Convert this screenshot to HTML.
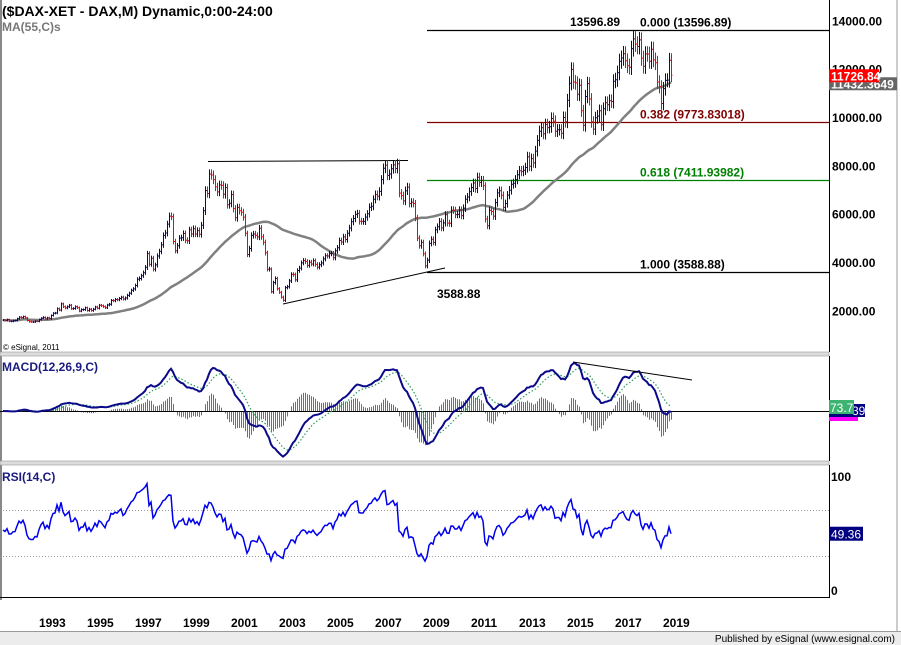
<!DOCTYPE html>
<html><head><meta charset="utf-8"><style>
html,body{margin:0;padding:0;background:#fff;}
svg{display:block;font-family:"Liberation Sans",Arial,sans-serif;}
</style></head><body>
<svg id="chart" width="901" height="645" viewBox="0 0 901 645">
<rect x="0" y="0" width="901" height="645" fill="#fff"/>
<rect x="0" y="0" width="2" height="600" fill="#888"/>
<line x1="897" y1="0" x2="897" y2="632" stroke="#ccc" stroke-width="2"/>
<rect x="0" y="352" width="829" height="4" fill="#ddd" stroke="#999" stroke-width="0.6"/>
<rect x="0" y="461" width="829" height="4" fill="#ddd" stroke="#999" stroke-width="0.6"/>
<line x1="829.5" y1="0" x2="829.5" y2="352" stroke="#000"/>
<line x1="829.5" y1="356" x2="829.5" y2="461" stroke="#000"/>
<line x1="829.5" y1="465" x2="829.5" y2="598" stroke="#000"/>
<line x1="0" y1="597.5" x2="830" y2="597.5" stroke="#000"/>
<g id="main"></g>
<g id="macd"></g>
<g id="rsi"></g>
<g id="xaxis"></g>
<text x="2" y="16" font-size="14" font-weight="bold" fill="#000">($DAX-XET - DAX,M) Dynamic,0:00-24:00</text>
<text x="2" y="31" font-size="12" font-weight="bold" fill="#777">MA(55,C)s</text>
<text x="3" y="350" font-size="8" fill="#000">© eSignal, 2011</text>
<text x="2" y="371" font-size="12" font-weight="bold" fill="#1a1a80">MACD(12,26,9,C)</text>
<text x="2" y="481" font-size="12" font-weight="bold" fill="#1a1a80">RSI(14,C)</text>
<rect x="0" y="632" width="901" height="13" fill="#ececec"/>
<line x1="0" y1="631.5" x2="901" y2="631.5" stroke="#999"/>
<text x="895" y="642" font-size="10" text-anchor="end" fill="#000">Published by eSignal (www.esignal.com)</text>
</svg>
<script>
const closes=[
1600,1580,1620,1550,1550,1578,
1580,1650,1720,1700,1740,1690,1580,1530,1520,1520,1550,1545,
1620,1680,1710,1650,1690,1660,1790,1880,1890,2070,2010,2267,
2150,2100,2150,2210,2070,2080,2150,2110,1970,2030,2030,2106,
1990,2050,1990,2050,2140,2090,2210,2190,2150,2110,2220,2254,
2410,2400,2450,2440,2490,2540,2470,2510,2620,2710,2830,2889,
3030,3290,3320,3430,3560,3780,4350,3910,4160,3700,3880,4250,
4440,4710,5100,5200,5570,5900,5880,4850,4470,4670,4990,5002,
5180,4900,4880,5330,5160,5380,5160,5300,5150,5520,6120,6958,
6830,7640,7600,7410,7110,6900,7190,7170,6800,7080,6370,6434,
6790,6210,5830,6260,6120,6060,5860,5190,4310,4560,5100,5160,
5100,5040,5400,5040,4820,4380,3700,3710,2770,3150,3320,2893,
2750,2550,2420,2940,2980,3220,3490,3480,3260,3650,3750,3965,
4060,4020,3860,3990,3920,4050,3900,3790,3890,3960,4130,4256,
4250,4350,4350,4180,4460,4590,4890,4830,5040,4930,5190,5408,
5670,5800,5970,6010,5690,5680,5680,5860,6000,6270,6310,6597,
6790,6720,6920,7410,7880,8010,7580,7640,7860,8020,7870,8067,
6850,6750,6530,6950,7100,6420,6480,6420,5830,4990,4670,4810,
4340,3840,4080,4770,4940,4810,5330,5460,5680,5410,5620,5957,
5610,5600,6150,6140,5960,5970,6150,5920,6230,6600,6690,6914,
7080,7270,7040,7510,7290,7380,7160,5780,5500,6140,6090,5898,
6460,6860,6950,6760,6260,6420,6770,6970,7220,7260,7410,7612,
7780,7740,7800,7910,8350,7960,8280,8100,8590,9030,9410,9552,
9310,9690,9560,9600,9940,9830,9410,9470,9470,9330,9980,9806,
10690,11400,11970,11450,11410,10940,11310,10260,9660,10850,11380,10743,
9800,9500,9970,10040,10260,9680,10340,10590,10510,10670,10640,11481,
11540,11830,12310,12440,12620,12330,12120,12060,12830,13230,13020,12918,
13189,12435,12097,12612,12605,12306,12805,12364,12247,11447,11257,10559,
11173,11516,11526,12344,11726.84];
const startT=1991.5;
const priceTicks=[14000,12000,10000,8000,6000,4000,2000];
const yearLabels=[1993,1995,1997,1999,2001,2003,2005,2007,2009,2011,2013,2015,2017,2019];
const fibLevels=[13596.89,9773.83018,7411.93982,3588.88];
const fibRatios=["0.000","0.382","0.618","1.000"];
const rsiTicks=[100,0];
const rsiGuides=[70,30];
const maBadgeText="11432.3649";

const NS="http://www.w3.org/2000/svg";
function mk(parent,tag,attrs,text){const e=document.createElementNS(NS,tag);for(const k in attrs)e.setAttribute(k,attrs[k]);if(text!==undefined)e.textContent=text;parent.appendChild(e);return e;}
const xT=t=>639+(t-2018)*24;
const xI=i=>xT(startT+i/12);
const yP=v=>117-(v-10000)*0.02417;
const yR=v=>590-v*1.14;
const main=document.getElementById('main');

priceTicks.forEach(v=>{const t=mk(main,'text',{x:832,y:yP(v)+5,'font-size':12,'font-weight':'bold',fill:'#000'},v.toFixed(2));

});

const fibColors=['#000','#800000','#008000','#000'];
fibLevels.forEach((v,k)=>{const y=Math.round(yP(v))+0.5;
const l=mk(main,'line',{x1:427,y1:y,x2:829,y2:y,stroke:fibColors[k],'stroke-width':1.2});


const lab=mk(main,'text',{x:640,y:y-4,'font-size':12,'font-weight':'bold',fill:fibColors[k]},fibRatios[k]+' ('+(k==0||k==3?v.toFixed(2):v.toFixed(5))+')');

});
const h1=mk(main,'text',{x:570,y:26,'font-size':12,'font-weight':'bold',fill:'#000'},'13596.89');


const l1=mk(main,'text',{x:437,y:298,'font-size':12,'font-weight':'bold',fill:'#000'},'3588.88');



const tl1=mk(main,'line',{x1:208,y1:161.5,x2:408,y2:160.5,stroke:'#000'});


const tl2=mk(main,'line',{x1:283,y1:304,x2:445,y2:268,stroke:'#000'});



const ma=closes.map((c,i)=>{const s=closes.slice(Math.max(0,i-54),i+1);return s.reduce((a,b)=>a+b,0)/s.length;});
const maP=mk(main,'path',{d:ma.map((v,i)=>(i?'L':'M')+xI(i).toFixed(1)+','+yP(v).toFixed(1)).join(''),fill:'none',stroke:'#808080','stroke-width':2.5});



let up='',dn='';
closes.forEach((c,i)=>{const o=i?closes[i-1]:c;const pad=c*0.025;const hi=Math.max(o,c)+pad,lo=Math.min(o,c)-pad;const x=Math.round(xI(i))+0.5;
const s='M'+x+','+yP(hi).toFixed(1)+'V'+yP(lo).toFixed(1)+'M'+(x-1)+','+yP(o).toFixed(1)+'h1M'+x+','+yP(c).toFixed(1)+'h1';
if(c>=o)up+=s;else dn+=s;});
const pu=mk(main,'path',{d:up,stroke:'#0a0a6e',fill:'none','stroke-width':1});


const pd=mk(main,'path',{d:dn,stroke:'#f00',fill:'none','stroke-width':1});



const last=closes[closes.length-1];const ly=yP(last);
const gb=mk(main,'rect',{x:829,y:ly+2,width:68,height:13,fill:'#666'});


const gt=mk(main,'text',{x:831,y:ly+13,'font-size':12,'font-weight':'bold',fill:'#fff'},maBadgeText);


const rb=mk(main,'rect',{x:829,y:ly-6,width:50,height:13,fill:'#f00'});


const rt=mk(main,'text',{x:831,y:ly+5,'font-size':12,'font-weight':'bold',fill:'#fff'},last.toFixed(2));



function ema(arr,n){const k=2/(n+1);const out=[];arr.forEach((v,i)=>out.push(i?v*k+out[i-1]*(1-k):v));return out;}
const e12=ema(closes,12),e26=ema(closes,26);
const macd=e12.map((v,i)=>v-e26[i]);
const sig=ema(macd,9);
const hist=macd.map((v,i)=>v-sig[i]);
const mg=document.getElementById('macd');
const maxAbs=Math.max(...macd.map(Math.abs));
const yM=v=>411-v*(48/maxAbs);
let hp='';hist.forEach((h,i)=>{const x=Math.round(xI(i))+0.5;hp+='M'+x+',411V'+yM(h*1.6).toFixed(1);});
const hpe=mk(mg,'path',{d:hp,stroke:'#e020e0','stroke-width':1,fill:'none'});


const zl=mk(mg,'line',{x1:0,y1:411.5,x2:829,y2:411.5,stroke:'#000'});


const sp=mk(mg,'path',{d:sig.map((v,i)=>(i?'L':'M')+xI(i).toFixed(1)+','+yM(v).toFixed(1)).join(''),fill:'none',stroke:'#2a9d5a','stroke-width':1.2,'stroke-dasharray':'1.5,2'});


const mp=mk(mg,'path',{d:macd.map((v,i)=>(i?'L':'M')+xI(i).toFixed(1)+','+yM(v).toFixed(1)).join(''),fill:'none',stroke:'#0a0a8a','stroke-width':2});


const mtl=mk(mg,'line',{x1:573,y1:362,x2:692,y2:380,stroke:'#000'});


const mb3=mk(mg,'rect',{x:829,y:413,width:29,height:8,fill:'#f0f'});


const mb2=mk(mg,'rect',{x:829,y:404,width:36,height:13,fill:'#000080'});


const mt2=mk(mg,'text',{x:852,y:415,'font-size':12,fill:'#fff'},'39');


const mb1=mk(mg,'rect',{x:829,y:400,width:25,height:14,fill:'#3cb371'});


const mt1=mk(mg,'text',{x:830,y:412,'font-size':12,fill:'#fff'},'73.7');



const rg=document.getElementById('rsi');
rsiGuides.forEach(v=>{const l=mk(rg,'line',{x1:0,y1:Math.round(yR(v))+0.5,x2:829,y2:Math.round(yR(v))+0.5,stroke:'#999','stroke-dasharray':'1,2'});

});
rsiTicks.forEach(v=>{const t=mk(rg,'text',{x:831,y:yR(v)+5,'font-size':12,'font-weight':'bold',fill:'#000'},String(v));

});
const rsi=[];let ag=closes[0]*0.02,al=closes[0]*0.018;
closes.forEach((c,i)=>{if(!i){rsi.push(100-100/(1+ag/al));return;}const d=c-closes[i-1];const g=Math.max(d,0),l=Math.max(-d,0);
ag=(ag*13+g)/14;al=(al*13+l)/14;
rsi.push(al===0?100:100-100/(1+ag/al));});
const rp=mk(rg,'path',{d:rsi.map((v,i)=>(i?'L':'M')+xI(i).toFixed(1)+','+yR(v).toFixed(1)).join(''),fill:'none',stroke:'#0000ee','stroke-width':1.5});


const rv=rsi[rsi.length-1];
const rbx=mk(rg,'rect',{x:829,y:yR(rv)-7,width:34,height:14,fill:'#000080'});


const rtx=mk(rg,'text',{x:831,y:yR(rv)+5,'font-size':12,fill:'#fff'},rv.toFixed(2));



const xg=document.getElementById('xaxis');
yearLabels.forEach(y=>{const t=mk(xg,'text',{x:xT(y),y:627,'font-size':12,'font-weight':'bold',fill:'#000'},String(y));

});
</script>
</body></html>
